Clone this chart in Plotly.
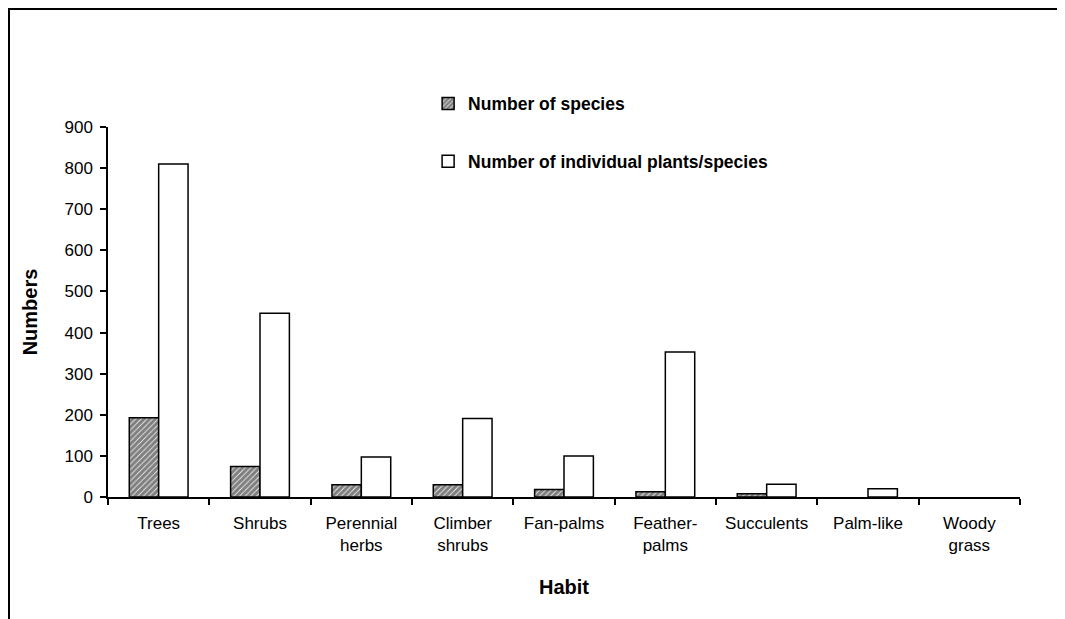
import plotly.graph_objects as go

categories = ["Trees", "Shrubs", "Perennial<br>herbs", "Climber<br>shrubs", "Fan-palms",
              "Feather-<br>palms", "Succulents", "Palm-like", "Woody<br>grass"]
species = [193, 74, 30, 30, 18, 13, 8, 0, 0]
individuals = [810, 447, 97, 191, 100, 353, 31, 20, 0]
y_ticks = [0, 100, 200, 300, 400, 500, 600, 700, 800, 900]

FONT = "Liberation Sans, Arial, sans-serif"


def nz(values):
    # zero-height bars are not drawn in the original
    return [v if v else None for v in values]


fig = go.Figure()
fig.add_trace(go.Bar(
    x=categories, y=nz(species), name="<b>Number of species</b>",
    legendgroup="a",
    marker=dict(color="white", line=dict(color="black", width=1.5),
                pattern=dict(shape="/", fgcolor="black", bgcolor="white",
                             size=4, solidity=0.8)),
))
fig.add_trace(go.Bar(
    x=categories, y=nz(individuals), name="<b>Number of individual plants/species</b>",
    legendgroup="b",
    marker=dict(color="white", line=dict(color="black", width=1.5)),
))

fig.update_layout(
    width=1065, height=619,
    margin=dict(l=100, r=53, t=119, b=130),
    paper_bgcolor="white", plot_bgcolor="white",
    barmode="group", bargap=0.42, bargroupgap=0,
    font=dict(family=FONT, size=17, color="black"),
    showlegend=True,
    legend=dict(x=0.351, y=1.112, xanchor="left", yanchor="top",
                bgcolor="rgba(0,0,0,0)", tracegroupgap=32,
                font=dict(family=FONT, size=17.5, color="black")),
    xaxis=dict(
        title=dict(text="<b>Habit</b>", font=dict(family=FONT, size=20), standoff=26),
        showline=True, linecolor="black", linewidth=1.5,
        ticks="outside", tickson="boundaries", ticklen=6, tickcolor="black", tickwidth=1.5,
        tickfont=dict(family=FONT, size=17), ticklabelstandoff=10,
        showgrid=False, zeroline=False,
    ),
    yaxis=dict(
        title=dict(text="<b>Numbers</b>", font=dict(family=FONT, size=20), standoff=21),
        range=[0, 900], tickvals=y_ticks,
        showline=True, linecolor="black", linewidth=1.5,
        ticks="outside", ticklen=6, tickcolor="black", tickwidth=1.5,
        tickfont=dict(family=FONT, size=17), ticklabelstandoff=4,
        showgrid=False, zeroline=False,
    ),
    shapes=[dict(type="rect", xref="paper", yref="paper",
                 x0=(1 - 100) / 912, x1=1.3, y0=-0.6, y1=1 + (119 - 1) / 370,
                 line=dict(color="black", width=2), fillcolor="rgba(0,0,0,0)",
                 layer="below")],
)

fig.write_html("out.html")
